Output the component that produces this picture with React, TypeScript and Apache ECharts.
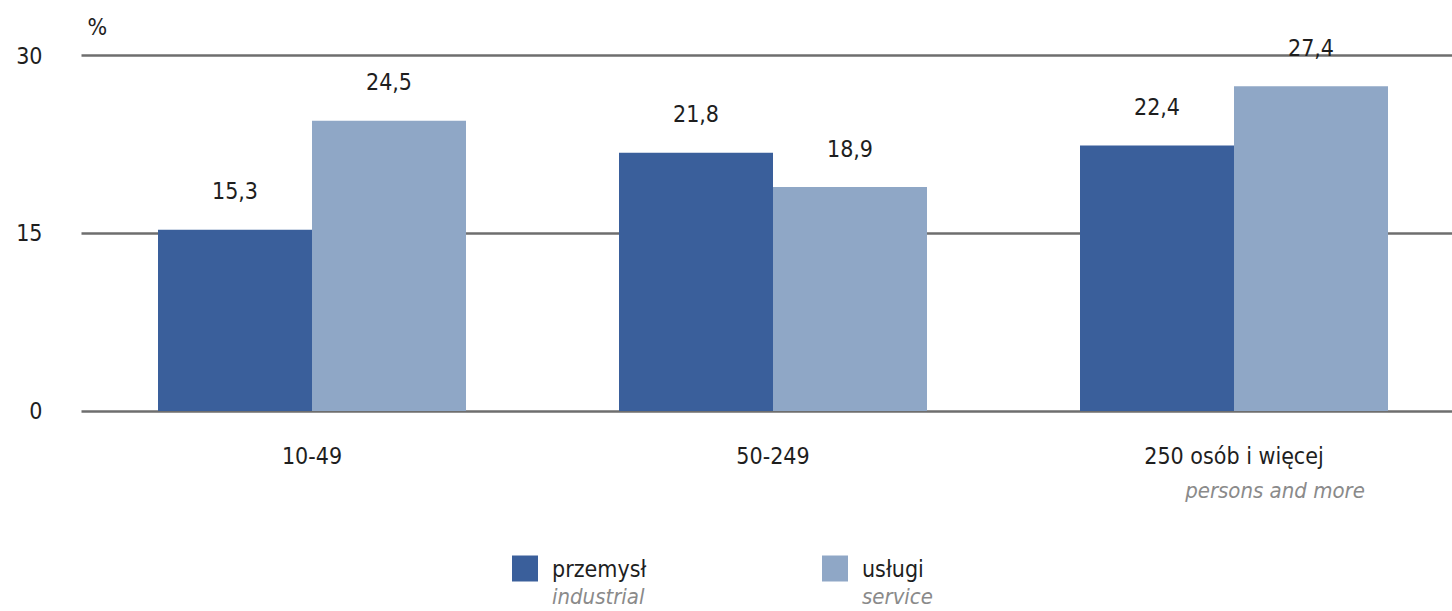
import React, { useEffect, useRef } from "react";
import * as echarts from "echarts";

const categories = ["10-49", "50-249", "250 osób i więcej"];
const categorySub = ["", "", "persons and more"];
const seriesNames = ["przemysł", "usługi"];
const seriesSub = ["industrial", "service"];
const industrial = [15.3, 21.8, 22.4];
const service = [24.5, 18.9, 27.4];
const yTicks = { min: 0, max: 30, interval: 15 };

const FONT = "'Liberation Sans Narrow', 'DejaVu Sans Condensed', 'Arial Narrow', sans-serif";
const DARK = "#3a5f9b";
const LIGHT = "#8fa7c6";
const TXT = "#1e1e1e";
const SUB = "#8a8a8a";
const FS = 23;

export default function App() {
  const ref = useRef<HTMLDivElement>(null);
  useEffect(() => {
    if (!ref.current) return;
    const chart = echarts.init(ref.current, null, { renderer: "svg" });
    const subFor = (name: string) => seriesSub[seriesNames.indexOf(name)] || "";
    const legendBase = {
      orient: "horizontal",
      icon: "rect",
      itemWidth: 26,
      itemHeight: 26,
      padding: 0,
      top: 529,
      selectedMode: false,
      formatter: (name: string) => `{e| }\n{a|${name}}\n{b|${subFor(name)}}`,
      textStyle: {
        fontFamily: FONT,
        padding: [0, 0, 0, 9],
        rich: {
          e: { fontSize: FS, lineHeight: 26, fontFamily: FONT },
          a: { fontSize: FS, lineHeight: 30, color: TXT, fontFamily: FONT },
          b: { fontSize: 22, lineHeight: 26, color: SUB, fontStyle: "italic", fontFamily: FONT },
        },
      },
    };
    const labelFmt = (p: any) => String(p.value).replace(".", ",");
    const barLabel = {
      show: true,
      position: "top",
      distance: 27,
      formatter: labelFmt,
      fontSize: FS,
      color: TXT,
      fontFamily: FONT,
    };
    chart.setOption({
      animation: false,
      textStyle: { fontFamily: FONT },
      grid: { left: 81.5, width: 1383, top: 55.5, height: 355.5 },
      legend: [
        { ...legendBase, left: 512, data: [seriesNames[0]] },
        { ...legendBase, left: 822, data: [seriesNames[1]] },
      ],
      xAxis: {
        type: "category",
        data: categories,
        axisLine: { show: false },
        axisTick: { show: false },
        axisLabel: {
          margin: 30,
          interval: 0,
          formatter: (v: string, i: number) =>
            categorySub[i] ? `{a|${v}}\n{it|${categorySub[i]}}` : `{a|${v}}`,
          rich: {
            a: { fontSize: FS, lineHeight: 30, color: TXT, fontFamily: FONT },
            it: {
              fontSize: 22,
              lineHeight: 38,
              color: SUB,
              fontStyle: "italic",
              fontFamily: FONT,
              padding: [0, 0, 0, 82],
            },
          },
        },
      },
      yAxis: {
        type: "value",
        min: yTicks.min,
        max: yTicks.max,
        interval: yTicks.interval,
        name: "%",
        nameLocation: "end",
        nameGap: 29,
        nameTextStyle: {
          fontSize: FS,
          color: TXT,
          fontFamily: FONT,
          align: "left",
          verticalAlign: "middle",
          padding: [0, 0, 0, 6],
        },
        axisLine: { show: false },
        axisTick: { show: false },
        axisLabel: {
          margin: 39,
          fontSize: FS,
          color: TXT,
          fontFamily: FONT,
          padding: [0, 0, 8, 0],
        },
        splitLine: { lineStyle: { color: "#6e6e6e", width: 2.5 } },
      },
      series: [
        {
          name: seriesNames[0],
          type: "bar",
          data: industrial,
          barWidth: 154,
          barGap: "0%",
          itemStyle: { color: DARK },
          label: barLabel,
        },
        {
          name: seriesNames[1],
          type: "bar",
          data: service,
          barWidth: 154,
          barGap: "0%",
          itemStyle: { color: LIGHT },
          label: barLabel,
        },
      ],
    });
    return () => chart.dispose();
  }, []);
  return (
    <div
      style={{
        position: "fixed",
        left: 0,
        top: 0,
        width: 1452,
        height: 611,
        overflow: "hidden",
        background: "#fff",
      }}
    >
      <div ref={ref} style={{ width: 1466, height: 611 }} />
    </div>
  );
}
